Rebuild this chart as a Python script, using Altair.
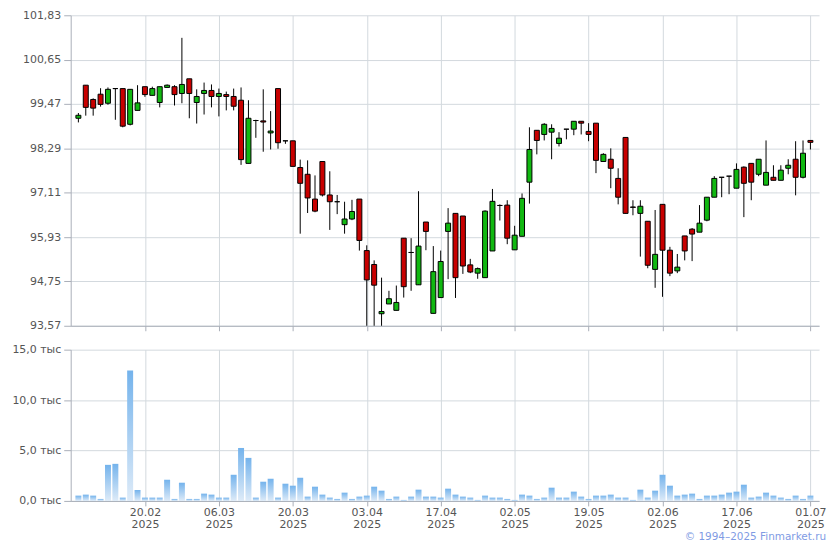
import altair as alt
import pandas as pd

# ---------------- data ----------------
opens = [99.09, 99.97, 99.59, 99.73, 99.49, 99.88, 99.88, 98.93, 99.30, 99.93,
         99.70, 99.51, 99.91, 99.93, 99.75, 100.14, 99.51, 99.75, 99.83, 99.67,
         99.72, 99.67, 99.57, 97.89, 99.03, 99.02, 98.70, 99.88, 98.49, 98.49,
         97.78, 97.60, 96.94, 97.94, 97.05, 96.87, 96.26, 96.41, 96.94, 95.57,
         95.20, 93.89, 94.15, 93.98, 95.90, 95.52, 94.66, 96.33, 93.90, 94.32,
         96.08, 96.56, 96.49, 95.19, 94.97, 94.85, 95.56, 96.77, 96.78, 95.59,
         95.95, 97.39, 98.77, 98.66, 98.72, 98.42, 98.80, 98.80, 99.01, 98.74,
         98.96, 97.94, 98.00, 97.49, 98.58, 96.73, 96.56, 96.35, 95.07, 96.80,
         95.58, 95.03, 95.96, 96.14, 96.06, 96.38, 96.99, 97.52, 97.55, 97.23,
         97.79, 97.89, 97.60, 97.31, 97.52, 97.44, 97.76, 98.00, 97.52, 98.50]
highs = [99.23, 99.97, 99.62, 99.89, 99.91, 99.88, 99.88, 99.86, 99.97, 99.93,
         99.93, 99.93, 99.99, 99.97, 101.23, 100.14, 99.86, 100.04, 99.99, 99.88,
         99.80, 99.88, 99.91, 99.57, 99.05, 99.86, 99.28, 99.88, 98.49, 98.49,
         97.99, 97.97, 97.57, 97.94, 97.68, 97.05, 96.87, 96.92, 96.94, 95.71,
         95.31, 94.85, 94.50, 94.64, 95.90, 95.90, 97.15, 96.33, 95.69, 95.57,
         96.70, 96.56, 96.49, 95.35, 95.12, 96.64, 97.21, 96.80, 96.91, 96.23,
         97.09, 98.85, 98.77, 98.96, 98.93, 98.72, 98.80, 99.01, 99.01, 98.96,
         98.96, 98.16, 98.29, 97.76, 98.58, 96.91, 96.91, 96.35, 96.65, 96.80,
         95.67, 95.48, 95.96, 96.17, 96.78, 96.99, 97.55, 97.52, 97.55, 97.89,
         97.81, 97.89, 98.00, 98.50, 97.84, 97.84, 98.00, 98.48, 98.50, 98.50]
lows = [98.98, 99.16, 99.16, 99.40, 99.45, 99.05, 98.85, 98.90, 99.30, 99.66,
        99.70, 99.38, 99.91, 99.43, 99.49, 99.09, 98.95, 99.19, 99.38, 99.14,
        99.30, 99.30, 97.85, 97.89, 98.57, 98.20, 98.26, 98.28, 98.41, 97.81,
        96.02, 96.57, 96.59, 97.01, 96.12, 96.54, 96.02, 96.38, 95.57, 93.57,
        93.57, 93.57, 94.15, 93.98, 94.32, 94.50, 94.66, 95.58, 93.90, 94.32,
        94.81, 94.31, 94.95, 94.97, 94.82, 94.85, 95.56, 96.37, 95.74, 95.59,
        95.95, 96.82, 98.13, 98.50, 98.00, 98.34, 98.53, 98.64, 98.66, 98.48,
        97.63, 97.94, 97.23, 96.80, 96.56, 96.51, 95.41, 95.10, 94.58, 94.34,
        94.89, 94.97, 95.31, 95.29, 96.06, 96.35, 96.99, 96.99, 97.07, 97.23,
        96.46, 96.91, 97.55, 97.31, 97.44, 97.44, 97.60, 97.04, 97.49, 98.26]
closes = [99.17, 99.38, 99.36, 99.46, 99.86, 99.88, 98.88, 99.86, 99.50, 99.72,
          99.88, 99.93, 99.97, 99.72, 99.99, 99.75, 99.67, 99.83, 99.67, 99.75,
          99.67, 99.41, 97.99, 99.09, 99.03, 98.99, 98.75, 98.44, 98.49, 97.81,
          97.36, 96.97, 96.62, 97.05, 96.87, 96.87, 96.41, 96.61, 95.84, 94.79,
          94.65, 93.95, 94.29, 94.19, 94.61, 95.52, 95.69, 96.08, 95.01, 95.28,
          96.30, 94.85, 95.16, 95.00, 95.09, 96.62, 96.88, 96.77, 95.90, 95.98,
          96.96, 98.26, 98.50, 98.93, 98.82, 98.56, 98.80, 99.01, 98.96, 98.66,
          97.97, 98.13, 97.76, 96.99, 96.56, 96.72, 96.75, 95.18, 95.47, 95.58,
          94.97, 95.13, 95.56, 96.01, 96.30, 96.99, 97.49, 97.52, 97.55, 97.73,
          97.36, 97.39, 98.00, 97.65, 97.44, 97.71, 97.84, 97.52, 98.16, 98.45]
volumes = [525, 624, 525, 197, 3577, 3676, 328, 12931, 1083, 328,
           328, 328, 2100, 197, 1805, 197, 197, 722, 624, 328,
           328, 2593, 5251, 4267, 328, 1904, 2199, 328, 1707, 1510,
           2297, 427, 1411, 624, 328, 197, 820, 197, 427, 525,
           1411, 1017, 197, 427, 98, 427, 1116, 427, 427, 328,
           1214, 624, 427, 328, 98, 525, 328, 328, 197, 98,
           624, 525, 197, 328, 1313, 328, 328, 919, 427, 197,
           525, 525, 624, 328, 328, 98, 1116, 328, 1017, 2593,
           1510, 525, 624, 722, 197, 525, 525, 624, 820, 919,
           1608, 328, 427, 820, 525, 328, 197, 525, 197, 525]

tick_idx = [9, 19, 29, 39, 49, 59, 69, 79, 89, 99]
tick_days = ["20.02", "06.03", "20.03", "03.04", "17.04",
             "02.05", "19.05", "02.06", "17.06", "01.07"]
tick_year = "2025"
price_ticks = [93.57, 94.75, 95.93, 97.11, 98.29, 99.47, 100.65, 101.83]
volume_ticks = [0, 5000, 10000, 15000]
copyright_text = "© 1994–2025 Finmarket.ru"

df = pd.DataFrame({
    "i": list(range(len(opens))),
    "open": opens, "high": highs, "low": lows, "close": closes,
    "volume": volumes,
})

# ---------------- style ----------------
FONT = "DejaVu Sans"
LABEL_COLOR = "#555555"
GRID = "#d3d9de"
DOMAIN = "#a9aeb8"
RED = "#c80000"
GREEN = "#11b811"

xscale = alt.Scale(domain=[-1.04, 100.17], nice=False, zero=False, padding=0)
days_js = ",".join(f"'{d}'" for d in tick_days)
x_label_expr = f"[[{days_js}][round((datum.value - 9) / 10)], '{tick_year}']"

top_x_axis = alt.Axis(values=tick_idx, labels=False, title=None, grid=True,
                      ticks=True, tickSize=5)
bottom_x_axis = alt.Axis(values=tick_idx, labelExpr=x_label_expr, title=None,
                         grid=True, ticks=True, tickSize=5, labelPadding=1,
                         labelLineHeight=12, labelFlush=False, labelOverlap=False)
price_axis = alt.Axis(values=price_ticks, title=None, tickSize=7, labelPadding=3,
                      labelExpr="replace(format(datum.value, '.2f'), '.', ',')",
                      minExtent=57, maxExtent=57)
vol_axis = alt.Axis(values=volume_ticks, title=None, tickSize=7, labelPadding=3,
                    labelExpr="replace(format(datum.value / 1000, '.1f'), '.', ',') + ' тыс'",
                    minExtent=57, maxExtent=57)

base = alt.Chart(df).encode(x=alt.X("i:Q", scale=xscale, axis=top_x_axis))
wick = base.mark_rule(color="black", strokeWidth=1).encode(
    y=alt.Y("low:Q", scale=alt.Scale(domain=[93.57, 101.83], nice=False, zero=False),
            axis=price_axis),
    y2="high:Q",
)
body = base.mark_bar(size=5, stroke="black", strokeWidth=1).encode(
    y="open:Q",
    y2="close:Q",
    fill=alt.condition("datum.open > datum.close", alt.value(RED), alt.value(GREEN)),
)
top = alt.layer(wick, body).properties(width=752, height=312)

vol = alt.Chart(df).mark_bar(
    size=6,
    color=alt.Gradient(gradient="linear", x1=0, x2=0, y1=0, y2=1,
                       stops=[alt.GradientStop(color="#74b3ec", offset=0),
                              alt.GradientStop(color="#deebf8", offset=1)]),
).encode(
    x=alt.X("i:Q", scale=xscale, axis=bottom_x_axis),
    y=alt.Y("volume:Q", scale=alt.Scale(domain=[0, 15000], nice=False), axis=vol_axis),
).properties(width=752, height=152)

chart = alt.vconcat(top, vol, spacing=12).properties(
    title=alt.TitleParams(text=copyright_text, orient="bottom", anchor="end",
                          font=FONT, fontSize=10.5, fontWeight="normal",
                          color="#7f9be4", offset=2),
    padding={"left": 3, "top": 0, "right": 5, "bottom": 5},
).configure_axis(
    labelFont=FONT, labelFontSize=11, labelColor=LABEL_COLOR,
    gridColor=GRID, gridWidth=1, domainColor=DOMAIN, tickColor=DOMAIN,
).configure_view(stroke=None)

chart.save("out.html", embed_options={"renderer": "svg", "actions": False})
